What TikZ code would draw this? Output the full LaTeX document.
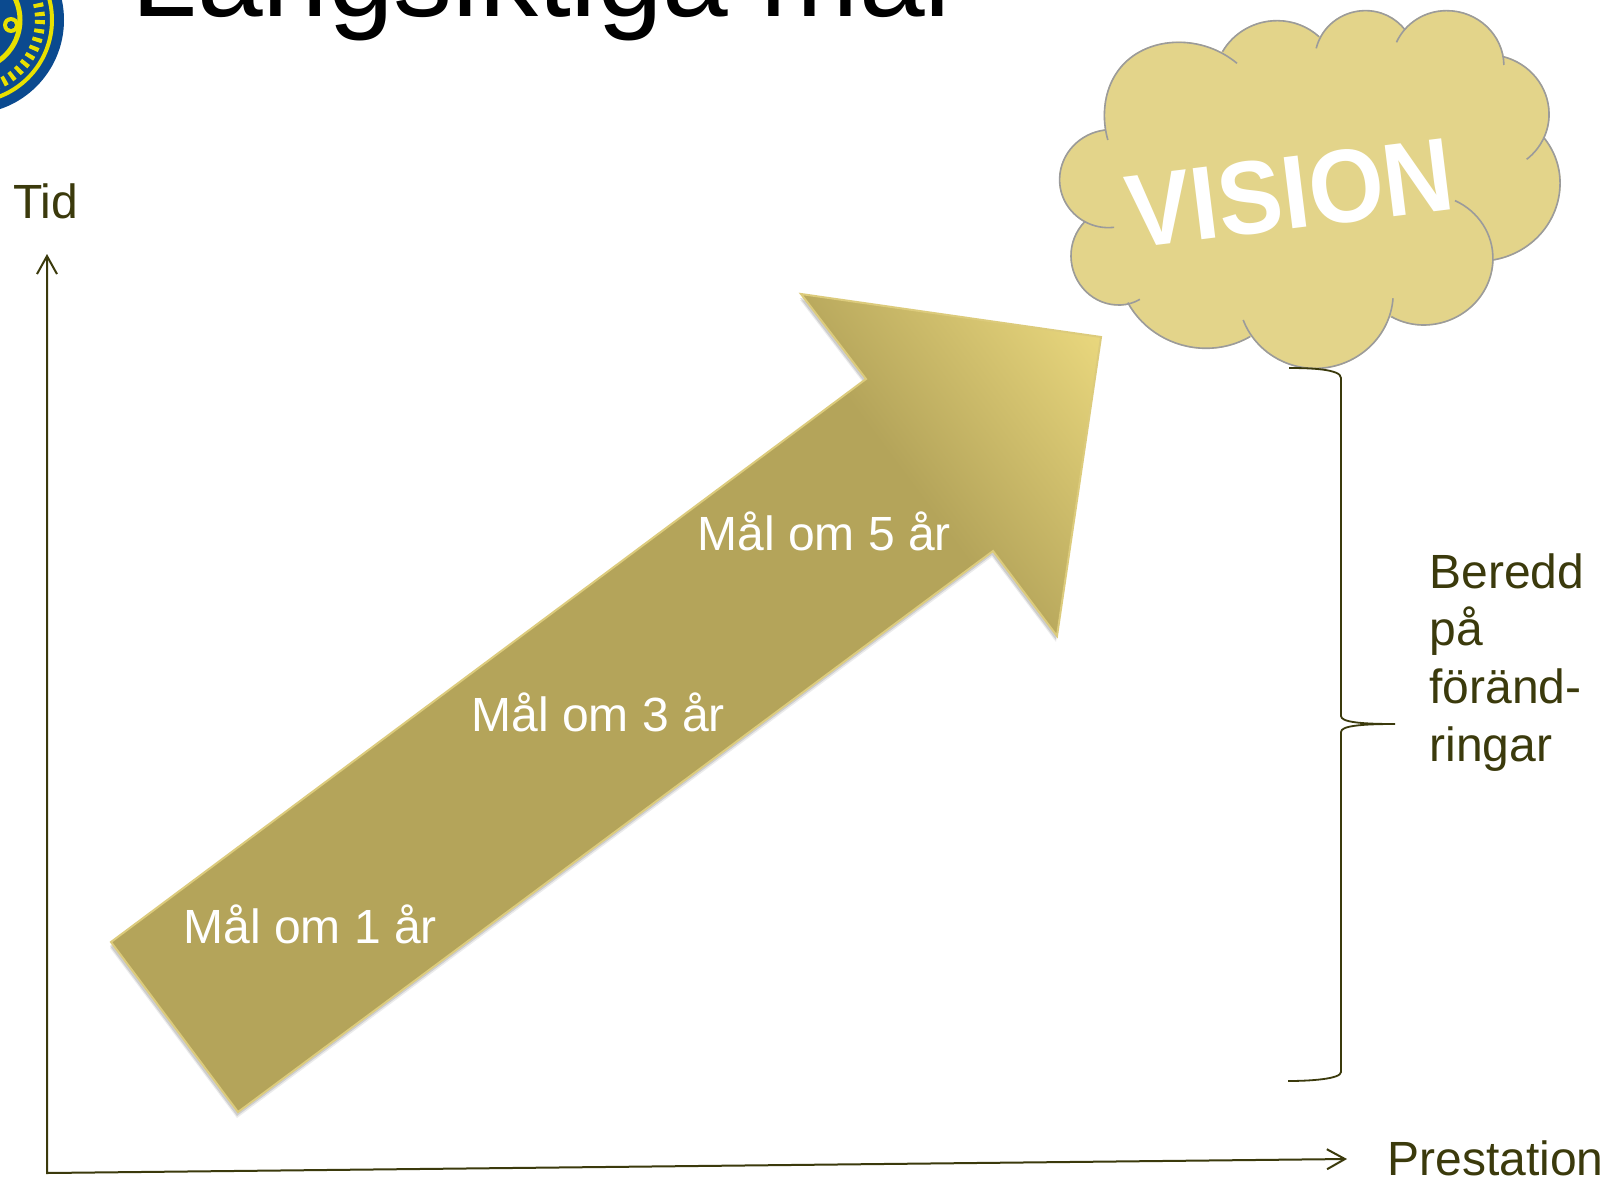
\documentclass[tikz,border=0pt]{standalone}
\usepackage{fontspec}
\setmainfont{Liberation Sans}
\usetikzlibrary{arrows.meta,hobby}
\definecolor{oliv}{HTML}{3B3A0C}
\definecolor{pilbas}{HTML}{B4A45A}
\definecolor{pilljus}{HTML}{EAD87E}
\definecolor{pilkant}{HTML}{DCCB7C}
\definecolor{molnfarg}{HTML}{E3D48A}
\definecolor{molnkant}{HTML}{9B9B9B}
\definecolor{sigillblue}{HTML}{0B4A8F}
\definecolor{sigillgul}{HTML}{E8E000}
\newcommand{\pilform}{(pa) -- (pb) -- (pc) -- (pd) -- (pe) -- (pf) -- (pg) -- cycle}
% one bump of the cloud, tail strokes included
\newcommand{\lobes}{%
	\lob{(197,420) .. (187,345) .. (245,190) .. (410,127) .. (572,190)}
	\lob{(530,155) .. (690,62) .. (810,110)}
	\lob{(802,145) .. (940,32) .. (1060,90)}
	\lob{(1035,127) .. (1180,32) .. (1347,195)}
	\lob{(1345,170) .. (1478,340) .. (1413,478)}
	\lob{(1462,412) .. (1510,550) .. (1315,780)}
	\lob{(1205,602) .. (1315,780) .. (1120,975) .. (1020,950)}
	\lob{(1025,895) .. (810,1105) .. (590,960)}
	\lob{(610,1010) .. (480,1045) .. (255,908)}
	\lob{(290,898) .. (235,915) .. (90,770) .. (130,665)}
	\lob{(215,682) .. (130,665) .. (57,535) .. (190,390)}
}
\begin{document}
\begin{tikzpicture}[x=0.5pt,y=-0.5pt,
	etikett/.style={text=oliv,font=\fontsize{24}{29}\selectfont,inner sep=0pt},
	malpil/.style={text=white,font=\fontsize{24}{29}\selectfont,inner sep=0pt,anchor=base west},
	axel/.style={oliv,line width=1pt,{Straight Barb[length=9pt,width=10pt]}-{Straight Barb[length=9pt,width=10pt]}}]
	\useasboundingbox (0,0) rectangle (1606,1178);
	\fill[white] (0,0) rectangle (1606,1178);
	
	%--- seal in the corner ---
	\fill[sigillblue] (-30,20) circle (94);
	\draw[sigillgul,line width=2pt] (-30,20) circle (82);
	\draw[sigillgul,line width=5pt,dash pattern=on 2pt off 2.5pt] (-30,20) circle (70);
	\draw[sigillgul,line width=2.5pt] (-30,20) circle (50);
	\fill[sigillgul] (11,25) circle (8);
	\fill[sigillblue] (11,25) circle (4);
	
	%--- title ---
	\node[anchor=base west,inner sep=0pt,font=\fontsize{59}{59}\selectfont] (rubrik) at (131,17) {Långsiktiga mål};
	
	%--- axes ---
	\coordinate (tidtopp) at (47,254);
	\coordinate (origo) at (47,1173);
	\coordinate (prestopp) at (1347,1159);
	\draw[axel] (tidtopp) -- (origo) -- (prestopp);
	\node[etikett,anchor=base west] (tid) at (13,218) {Tid};
	\node[etikett,anchor=base west] (prestation) at (1387,1175) {Prestation};
	
	%--- big arrow ---
	\coordinate (pa) at (111,942);
	\coordinate (pb) at (238,1112);
	\coordinate (pc) at (993,551);
	\coordinate (pd) at (1057,636);
	\coordinate (pe) at (1101,337);
	\coordinate (pf) at (801,294);
	\coordinate (pg) at (866,379);
	\begin{scope}[transform canvas={shift={(-1,6)}}]
		\fill[black,opacity=0.08] \pilform;
	\end{scope}
	\begin{scope}[transform canvas={shift={(-1,4)}}]
		\fill[black,opacity=0.12] \pilform;
	\end{scope}
	\fill[pilbas] \pilform;
	\begin{scope}
		\clip \pilform;
		\begin{scope}[transform canvas={shift={(913,487)},rotate=36.6}]
			\shade[left color=pilbas,right color=pilljus] (0,-400) rectangle (245,400);
		\end{scope}
	\end{scope}
	\draw[pilkant,line width=1pt,line join=miter] \pilform;
	\node[malpil] (mal1) at (183,943) {Mål om 1 år};
	\node[malpil] (mal3) at (471,731) {Mål om 3 år};
	\node[malpil] (mal5) at (697,550) {Mål om 5 år};
	
	%--- cloud, traced in a scope of its own ---
	\begin{scope}[shift={(1040,0)},xscale=0.3444,yscale=0.3333]
		\filldraw[molnfarg,line width=0.6pt] (190,390) -- (530,155) -- (810,110) -- (1060,90) -- (1345,170) -- (1462,412) -- (1315,780) -- (1020,950) -- (610,1010) -- (255,908) -- (130,665) -- cycle;
		\def\lob#1{\filldraw[molnfarg,line width=0.6pt,use Hobby shortcut] #1 -- cycle;}
		\lobes
		\def\lob#1{\draw[molnkant,line width=0.8pt,use Hobby shortcut] #1;}
		\lobes
	\end{scope}
	\node[inner sep=0pt,rotate=7,xscale=0.93,text=white,font=\fontsize{52}{52}\selectfont\bfseries] (vision) at (1290,193) {VISION};
	
	%--- brace ---
	\coordinate (klamtopp) at (1289,368);
	\coordinate (klamspets) at (1395,724);
	\coordinate (klambotten) at (1288,1081);
	\draw[oliv,line width=0.9pt] (klamtopp) .. controls (1310,368) and (1341,369) .. (1341,378) -- (1341,716)
		.. controls (1341,722) and (1360,724) .. (klamspets) .. controls (1360,724) and (1341,726) .. (1341,732)
		-- (1341,1072) .. controls (1341,1079) and (1310,1081) .. (klambotten);
	\node[etikett,anchor=base west] (beredd) at (1429,588) {Beredd};
	\node[etikett,anchor=base west] (pa2) at (1429,645) {på};
	\node[etikett,anchor=base west] (forand) at (1429,703) {föränd-};
	\node[etikett,anchor=base west] (ringar) at (1429,761) {ringar};
\end{tikzpicture}
\end{document}
